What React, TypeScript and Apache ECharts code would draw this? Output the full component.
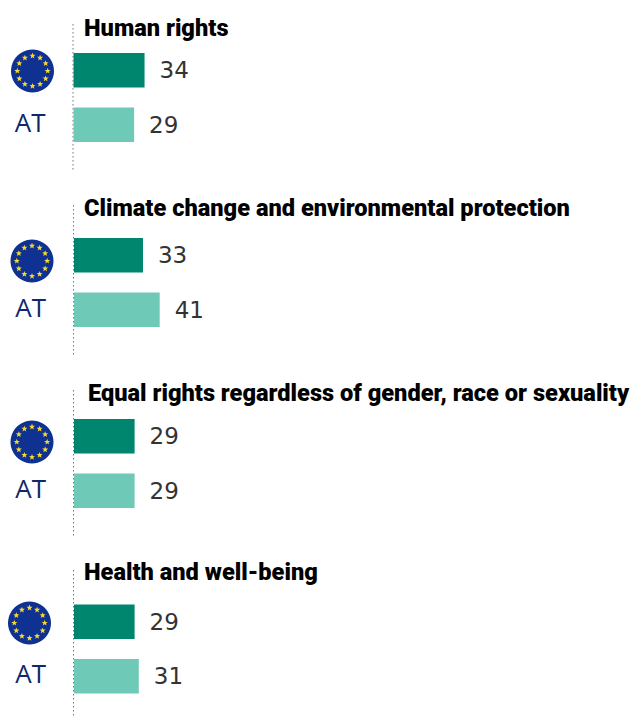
import React, { useEffect, useRef } from "react";
import * as echarts from "echarts";

const topics = [
  "Human rights",
  "Climate change and environmental protection",
  "Equal rights regardless of gender, race or sexuality",
  "Health and well-being",
];
const categories = ["EU", "AT"];
const euValues = [34, 33, 29, 29];
const atValues = [29, 41, 29, 31];

const gridTops = [43, 228, 409, 594.5];
const gridLefts = [73.5, 74, 74, 74];
const titleLefts = [84, 84, 88, 84];
const titleCentres = [28, 208, 393, 572];
const lineRanges = [[24, 172], [205, 357], [390, 538], [570, 718]];
const flagCentres = [[32.5, 71], [32, 261], [32, 442], [29.5, 623]];
const BAND = 109;

function starPoints(cx: number, cy: number, R: number) {
  const pts: number[][] = [];
  for (let i = 0; i < 10; i++) {
    const r = i % 2 === 0 ? R : R * 0.42;
    const a = -Math.PI / 2 + (i * Math.PI) / 5;
    pts.push([cx + r * Math.cos(a), cy + r * Math.sin(a)]);
  }
  return pts;
}

function flag(cx: number, cy: number) {
  const children: any[] = [
    { type: "circle", shape: { cx, cy, r: 21.5 }, style: { fill: "#0f3192" } },
  ];
  for (let i = 0; i < 12; i++) {
    const a = (i * Math.PI) / 6;
    children.push({
      type: "polygon",
      shape: { points: starPoints(cx + 15.2 * Math.sin(a), cy - 15.2 * Math.cos(a), 3.2) },
      style: { fill: "#f7d92f" },
    });
  }
  return { type: "group", children };
}

export default function App() {
  const ref = useRef<HTMLDivElement>(null);
  useEffect(() => {
    const chart = echarts.init(ref.current!, null, { renderer: "svg" });
    const label = {
      show: true,
      position: "right" as const,
      distance: 15,
      offset: [0, 0],
      color: "#333333",
      fontFamily: "DejaVu Sans",
      fontSize: 23,
    };
    chart.setOption({
      animation: false,
      backgroundColor: "#ffffff",
      title: topics.map((t, i) => ({
        text: t,
        left: titleLefts[i],
        top: titleCentres[i] - 12,
        padding: 0,
        textStyle: {
          fontFamily: "Roboto",
          fontWeight: 900,
          fontSize: 23.6,
          color: "#000000",
        },
      })),
      grid: topics.map((_, i) => ({
        left: gridLefts[i],
        top: gridTops[i],
        width: 209,
        height: BAND,
      })),
      xAxis: topics.map((_, i) => ({
        type: "value",
        gridIndex: i,
        min: 0,
        max: 100,
        show: false,
      })),
      yAxis: topics.map((_, i) => ({
        type: "category",
        gridIndex: i,
        inverse: true,
        data: categories,
        axisLine: { show: false },
        axisTick: { show: false },
        axisLabel: {
          margin: 28,
          color: "#0e2a6b",
          fontFamily: "Open Sans",
          fontSize: 26,
          verticalAlign: "bottom",
          lineHeight: 6,
          formatter: (v: string) => (v === "AT" ? v : ""),
        },
      })),
      series: topics.map((_, i) => ({
        type: "bar",
        xAxisIndex: i,
        yAxisIndex: i,
        barWidth: 34.5,
        label,
        data: [
          { value: euValues[i], itemStyle: { color: "#00856f" } },
          { value: atValues[i], itemStyle: { color: "#6fc9b7" } },
        ],
      })),
      graphic: [
        ...lineRanges.map(([y1, y2], i) => ({
          type: "line",
          shape: { x1: gridLefts[i] - 0.5, y1, x2: gridLefts[i] - 0.5, y2 },
          style: { stroke: "#777777", lineWidth: 1, lineDash: [1.5, 2.5] },
        })),
        ...flagCentres.map(([x, y]) => flag(x, y)),
      ],
    });
    return () => chart.dispose();
  }, []);
  return (
    <div
      ref={ref}
      style={{ position: "absolute", left: 0, top: 0, width: 638, height: 718 }}
    />
  );
}
